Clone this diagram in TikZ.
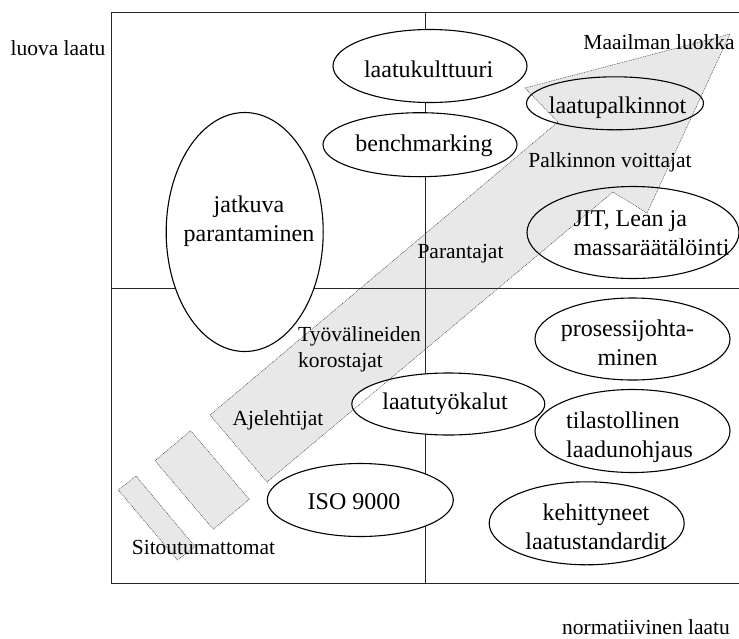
\documentclass[tikz,border=0pt]{standalone}
\usepackage{fontspec}
\setmainfont{Liberation Serif}
\usetikzlibrary{shapes.geometric}

\tikzset{
  oval/.style={ellipse, draw=black, line width=1.1pt, inner sep=0pt},
  ovalwhite/.style={oval, fill=white},
  frameline/.style={draw=black!85, line width=1pt},
  bandfill/.style={fill=black!9},
  bandline/.style={draw=black!75, line width=0.5pt, dash pattern=on 0.9pt off 0.9pt},
  biglabel/.style={inner sep=0pt, font=\fontsize{24}{29}\selectfont},
  smalllabel/.style={inner sep=0pt, font=\fontsize{21.5}{26}\selectfont},
}

\begin{document}
\begin{tikzpicture}[x=1pt, y=-1pt]
  \useasboundingbox (0,0) rectangle (739,638);

  % corner points of the wide arrow and of the two stubs behind it
  \coordinate (tailTop) at (210,415);
  \coordinate (tailBot) at (267,482);
  \coordinate (neckTop) at (558,122);
  \coordinate (barbTop) at (525,88);
  \coordinate (tip)     at (730,34);
  \coordinate (barbBot) at (647,213);
  \coordinate (neckBot) at (613,192);

  \coordinate (s2a) at (190.7,430.7);
  \coordinate (s2b) at (249.3,499.3);
  \coordinate (s2c) at (213.3,529.3);
  \coordinate (s2d) at (155,460.7);

  \coordinate (s1a) at (136,476);
  \coordinate (s1b) at (195,546.7);
  \coordinate (s1c) at (177.3,560);
  \coordinate (s1d) at (118.3,490);

  % grey fill of the arrow and stubs
  \fill[bandfill] (tailTop) -- (neckTop) -- (barbTop) -- (tip) -- (barbBot)
                  -- (neckBot) -- (tailBot) -- cycle;
  \path[bandfill, bandline] (s2a) -- (s2b) -- (s2c) -- (s2d) -- cycle;
  \path[bandfill, bandline] (s1a) -- (s1b) -- (s1c) -- (s1d) -- cycle;

  % frame and quadrant lines
  \coordinate (frTL) at (111,12);
  \coordinate (frTR) at (739,12);
  \coordinate (frBL) at (111,583);
  \coordinate (frBR) at (739,583);
  \coordinate (midTop) at (425,12);
  \coordinate (midBot) at (425,583);
  \coordinate (midLeft) at (111,288);
  \coordinate (midRight) at (739,288);
  \draw[frameline] (frTR) -- (frTL) -- (frBL) -- (frBR);
  \draw[frameline] (midTop) -- (midBot);
  \draw[frameline] (midLeft) -- (midRight);

  % opaque ellipses
  \node[ovalwhite, minimum width=194pt, minimum height=73pt] (kult)  at (430,66) {};
  \node[ovalwhite, minimum width=194pt, minimum height=64pt] (bench) at (420,144.7) {};
  \node[ovalwhite, minimum width=157pt, minimum height=239pt] (jatk) at (244.7,232) {};
  \node[ovalwhite, minimum width=195pt, minimum height=82pt] (pros)  at (632.5,339) {};
  \node[ovalwhite, minimum width=193pt, minimum height=62pt] (tyok)  at (448.3,404) {};
  \node[ovalwhite, minimum width=195pt, minimum height=83pt] (tilas) at (632.5,431) {};
  \node[ovalwhite, minimum width=186pt, minimum height=73pt] (iso)   at (360.3,500) {};
  \node[ovalwhite, minimum width=195pt, minimum height=83pt] (kehit) at (586.7,523.3) {};

  % dotted outline of the arrow
  \draw[bandline] (tailTop) -- (neckTop) -- (barbTop) -- (tip) -- (barbBot)
                  -- (neckBot) -- (tailBot) -- cycle;

  % see-through ellipses on the arrow
  \node[oval, minimum width=177pt, minimum height=53pt] (palk) at (615,103.3) {};
  \node[oval, minimum width=212pt, minimum height=92pt] (jit)  at (633,232.5) {};

  % ellipse texts
  \node[biglabel] (tKult)  at (428.7,69.5) {laatukulttuuri};
  \node[biglabel] (tBench) at (424,146) {benchmarking};
  \node[biglabel, align=center] (tJatk) at (249,221) {jatkuva\\parantaminen};
  \node[biglabel] (tPalk)  at (617.5,108) {laatupalkinnot};
  \node[biglabel, align=left] (tJit) at (651.5,233) {JIT, Lean ja\\massaräätälöinti};
  \node[biglabel, align=center] (tPros) at (627.5,343) {prosessijohta-\\minen};
  \node[biglabel] (tTyok)  at (445,404) {laatutyökalut};
  \node[biglabel, align=left] (tTilas) at (629.5,437) {tilastollinen\\laadunohjaus};
  \node[biglabel] (tIso)   at (354,502) {ISO 9000};
  \node[biglabel, align=center] (tKehit) at (596,527) {kehittyneet\\laatustandardit};

  % stage labels along the arrow
  \node[smalllabel] (lMaail) at (659,42) {Maailman luokka};
  \node[smalllabel] (lPalk)  at (610,162) {Palkinnon voittajat};
  \node[smalllabel] (lPar)   at (460.5,254) {Parantajat};
  \node[smalllabel, align=left] (lTyo) at (359.5,349) {Työvälineiden\\korostajat};
  \node[smalllabel] (lAje)   at (278,420) {Ajelehtijat};
  \node[smalllabel] (lSit)   at (203.5,547) {Sitoutumattomat};

  % axis labels
  \node[smalllabel] (axLuova) at (58,48) {luova laatu};
  \node[smalllabel] (axNorm)  at (646,627) {normatiivinen laatu};
\end{tikzpicture}
\end{document}
